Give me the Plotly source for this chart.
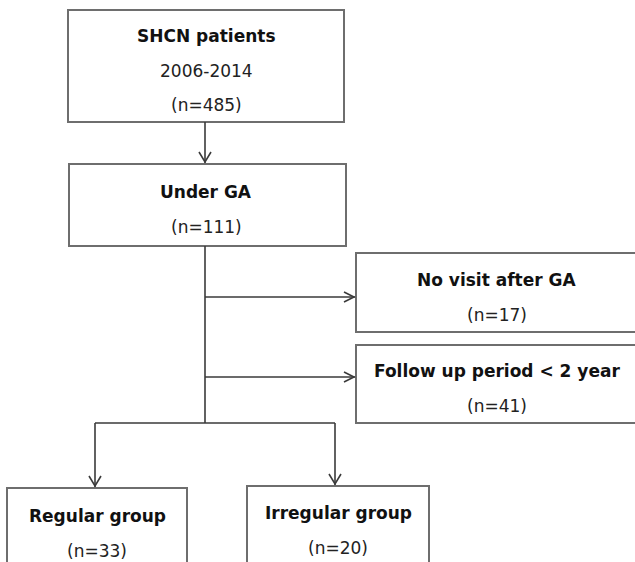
import plotly.graph_objects as go

# ---- data ----
titles = ["SHCN patients", "Under GA", "No visit after GA", "Follow up period < 2 year",
          "Regular group", "Irregular group"]
subtitles = ["2006-2014", "", "", "", "", ""]
counts = [485, 111, 17, 41, 33, 20]

# ---- layout (pixel coordinates, y downward) ----
W, H = 635, 562
boxes = [  # x0, y0, x1, y1
    (68, 10, 344, 122),
    (69, 164, 346, 246),
    (356, 253, 640, 332),
    (356, 345, 640, 423),
    (7, 488, 187, 570),
    (247, 486, 429, 570),
]
text_cx = [206, 206, 497, 497, 97, 338]
title_y = [36, 192, 280, 371, 516, 513]

BOX_COL = "#6e6e6e"
LINE_COL = "#3a3a3a"
FONT = "DejaVu Sans"

shapes = []
for (x0, y0, x1, y1) in boxes:
    shapes.append(dict(type="rect", x0=x0, y0=y0, x1=x1, y1=y1, xref="x", yref="y",
                       line=dict(color=BOX_COL, width=2), fillcolor="rgba(0,0,0,0)"))

def line(x0, y0, x1, y1):
    shapes.append(dict(type="line", x0=x0, y0=y0, x1=x1, y1=y1, xref="x", yref="y",
                       line=dict(color=LINE_COL, width=1.6)))

def head_down(x, y):
    shapes.append(dict(type="path", path=f"M {x-6},{y-11} L {x},{y-1} L {x+6},{y-11}",
                       xref="x", yref="y", line=dict(color=LINE_COL, width=1.6)))

def head_right(x, y):
    shapes.append(dict(type="path", path=f"M {x-11},{y-5} L {x-1},{y} L {x-11},{y+5}",
                       xref="x", yref="y", line=dict(color=LINE_COL, width=1.6)))

# box1 -> box2
line(205, 122, 205, 163); head_down(205, 163)
# trunk
line(205, 246, 205, 423)
# side exits
for yy in (297, 377):
    line(205, yy, 355, yy); head_right(355, yy)
# split
line(95, 423, 335, 423)
line(95, 423, 95, 487); head_down(95, 487)
line(335, 423, 335, 485); head_down(335, 485)

annotations = []
for i in range(len(titles)):
    cx = text_cx[i]
    ty = title_y[i]
    annotations.append(dict(x=cx, y=ty, xref="x", yref="y", text=f"<b>{titles[i]}</b>",
                            showarrow=False, font=dict(family=FONT, size=17, color="#111"),
                            xanchor="center", yanchor="middle"))
    ny = ty + 35
    if subtitles[i]:
        annotations.append(dict(x=cx, y=ty + 35, xref="x", yref="y", text=subtitles[i],
                                showarrow=False, font=dict(family=FONT, size=17, color="#222"),
                                xanchor="center", yanchor="middle"))
        ny = ty + 69
    annotations.append(dict(x=cx, y=ny, xref="x", yref="y", text=f"(n={counts[i]})",
                            showarrow=False, font=dict(family=FONT, size=17, color="#222"),
                            xanchor="center", yanchor="middle"))

fig = go.Figure()
fig.update_layout(
    width=W, height=H,
    margin=dict(l=0, r=0, t=0, b=0),
    paper_bgcolor="white", plot_bgcolor="white",
    xaxis=dict(range=[0, W], visible=False, fixedrange=True),
    yaxis=dict(range=[H, 0], visible=False, fixedrange=True),
    shapes=shapes, annotations=annotations, showlegend=False,
)
fig.write_html("out.html", config={"displayModeBar": False},
               post_script="document.body.style.margin='0';document.body.style.overflow='hidden';")
